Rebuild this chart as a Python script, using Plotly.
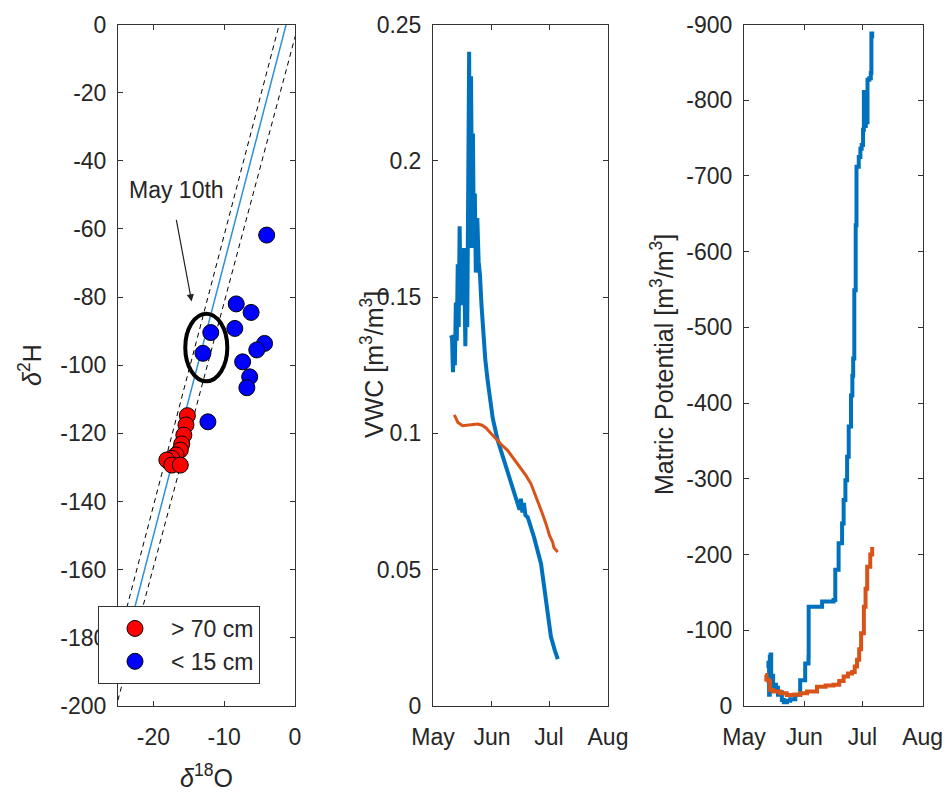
import plotly.graph_objects as go

# ---- Isotope samples (permil) ----
deep_d18O = [-15.2, -15.4, -15.7, -16.0, -16.2, -16.8, -17.4, -18.1, -17.4, -16.2]
deep_d2H = [-114.8, -117.5, -120.5, -123.1, -124.9, -126.3, -127.3, -127.8, -129.3, -129.3]
shallow_d18O = [-4.0, -8.3, -6.2, -8.5, -11.9, -13.0, -4.3, -5.4, -7.4, -6.4, -6.8, -12.3]
shallow_d2H = [-61.8, -82.0, -84.5, -89.2, -90.4, -96.5, -93.6, -95.5, -99.0, -103.4, -106.6, -116.6]

# water lines as (slope, intercept); the span of d18O they are drawn over
gmwl = (8.0, 10.0)
upper_band = (7.95, 17.7)
lower_band = (7.78, -3.7)
line_span = [-26.0, 1.0]

# highlighted May 10th samples (ellipse bounds) and arrow
may10_d18O = [-15.5, -9.56]
may10_d2H = [-104.7, -84.9]
arrow_tail = (-16.8, -56.9)
arrow_head = (-14.6, -81.3)
label_pos = (-16.7, -48.6)

# ---- Volumetric water content ----
vwc_shallow_time = [
    "2017-05-10 12:00", "2017-05-11 00:00", "2017-05-11 12:00", "2017-05-12 00:00",
    "2017-05-12 12:00", "2017-05-13 00:00", "2017-05-13 12:00", "2017-05-14 00:00",
    "2017-05-14 12:00", "2017-05-15 00:00", "2017-05-15 12:00", "2017-05-16 00:00",
    "2017-05-16 12:00", "2017-05-17 07:00", "2017-05-18 00:00", "2017-05-18 12:00",
    "2017-05-19 00:00", "2017-05-19 12:00", "2017-05-20 00:00", "2017-05-20 12:00",
    "2017-05-21 00:00", "2017-05-21 12:00", "2017-05-22 00:00", "2017-05-22 12:00",
    "2017-05-23 00:00", "2017-05-23 12:00", "2017-05-24 07:00", "2017-05-25 00:00",
    "2017-05-25 17:00", "2017-05-26 12:00", "2017-05-27 12:00", "2017-05-28 12:00",
    "2017-05-29 19:00", "2017-06-01 10:00", "2017-06-04 00:00", "2017-06-07 07:00",
    "2017-06-11 00:00", "2017-06-14 12:00", "2017-06-15 12:00", "2017-06-16 05:00",
    "2017-06-17 00:00", "2017-06-17 19:00", "2017-06-18 14:00", "2017-06-19 19:00",
    "2017-06-23 02:00", "2017-06-26 19:00", "2017-06-29 10:00", "2017-07-02 00:00",
    "2017-07-04 00:00", "2017-07-05 14:00",
]
vwc_shallow = [
    0.136, 0.135, 0.1225, 0.132, 0.125, 0.148, 0.134, 0.162,
    0.139, 0.176, 0.149, 0.166, 0.147, 0.168, 0.132, 0.158,
    0.139, 0.218, 0.240, 0.168, 0.231, 0.183, 0.210, 0.168,
    0.188, 0.159, 0.179, 0.163, 0.158, 0.147, 0.134, 0.127,
    0.119, 0.1055, 0.0975, 0.090, 0.0815, 0.0742, 0.0720, 0.0760,
    0.0710, 0.0745, 0.0700, 0.0693, 0.0620, 0.0522, 0.0385, 0.0254,
    0.0205, 0.0172,
]
vwc_deep_time = [
    "2017-05-12 05:00", "2017-05-14 02:00", "2017-05-16 14:00", "2017-05-18 22:00",
    "2017-05-21 12:00", "2017-05-24 12:00", "2017-05-26 19:00", "2017-05-28 22:00",
    "2017-05-31 12:00", "2017-06-03 02:00", "2017-06-05 19:00", "2017-06-09 07:00",
    "2017-06-12 14:00", "2017-06-16 07:00", "2017-06-18 22:00", "2017-06-21 12:00",
    "2017-06-25 00:00", "2017-06-27 07:00", "2017-06-29 10:00", "2017-07-01 07:00",
    "2017-07-02 22:00", "2017-07-03 14:00", "2017-07-05 14:00",
]
vwc_deep = [
    0.1068, 0.104, 0.1028, 0.103, 0.1032, 0.1034, 0.103, 0.102,
    0.100, 0.0979, 0.096, 0.0937, 0.0905, 0.087, 0.0845, 0.0815,
    0.0754, 0.071, 0.0668, 0.0625, 0.0601, 0.058, 0.0565,
]

# ---- Matric potential ----
mp_shallow_time = [
    "2017-05-13 07:00", "2017-05-13 14:00", "2017-05-13 22:00", "2017-05-14 07:00",
    "2017-05-14 17:00", "2017-05-15 00:00", "2017-05-15 12:00", "2017-05-16 00:00",
    "2017-05-16 12:00", "2017-05-17 12:00", "2017-05-18 12:00", "2017-05-19 12:00",
    "2017-05-20 12:00", "2017-05-21 12:00", "2017-05-23 02:00", "2017-05-24 19:00",
    "2017-05-27 10:00", "2017-05-29 22:00", "2017-06-01 12:00", "2017-06-03 05:00",
    "2017-06-03 07:00", "2017-06-10 05:00", "2017-06-16 02:00", "2017-06-17 00:00",
    "2017-06-18 17:00", "2017-06-20 12:00", "2017-06-21 07:00", "2017-06-22 05:00",
    "2017-06-23 02:00", "2017-06-23 22:00", "2017-06-25 02:00", "2017-06-25 19:00",
    "2017-06-26 05:00", "2017-06-26 19:00", "2017-06-27 12:00", "2017-06-27 22:00",
    "2017-06-29 02:00", "2017-06-29 22:00", "2017-06-30 14:00", "2017-07-01 07:00",
    "2017-07-01 17:00", "2017-07-02 05:00", "2017-07-02 17:00", "2017-07-03 05:00",
    "2017-07-03 14:00", "2017-07-04 12:00", "2017-07-05 07:00", "2017-07-05 14:00",
    "2017-07-06 00:00",
]
mp_shallow = [
    -50, -57, -15, -65, -68, -30, -40, -22,
    -28, -24, -15, -18, -8, -5, -7, -9,
    -15, -34, -56, -65,
    -131, -138, -140, -180,
    -215, -241, -272, -298,
    -329, -369, -410, -436,
    -459, -549, -635, -712,
    -725, -736, -741, -761,
    -811, -766, -808, -771,
    -827, -829, -836, -888,
    -882,
]
mp_deep_time = [
    "2017-05-11 22:00", "2017-05-12 12:00", "2017-05-13 12:00", "2017-05-14 10:00",
    "2017-05-16 00:00", "2017-05-19 14:00", "2017-05-23 00:00", "2017-05-26 12:00",
    "2017-05-30 00:00", "2017-06-02 10:00", "2017-06-07 14:00", "2017-06-12 00:00",
    "2017-06-16 02:00", "2017-06-19 00:00", "2017-06-21 07:00", "2017-06-23 12:00",
    "2017-06-25 17:00", "2017-06-27 00:00", "2017-06-28 05:00", "2017-06-29 07:00",
    "2017-06-30 07:00", "2017-07-01 17:00", "2017-07-02 14:00", "2017-07-03 10:00",
    "2017-07-05 00:00", "2017-07-06 00:00",
]
mp_deep = [
    -41, -35, -33, -21, -19, -17, -14.5, -15,
    -17, -19, -25.5, -27, -28, -33, -39, -43,
    -45, -52, -61, -75, -96, -131, -155, -184,
    -200, -210,
]

# ---- Axis ticks ----
iso_x_ticks = [-20, -10, 0]
iso_y_ticks = [0, -20, -40, -60, -80, -100, -120, -140, -160, -180, -200]
vwc_ticks = [0, 0.05, 0.1, 0.15, 0.2, 0.25]
mp_ticks = [0, -100, -200, -300, -400, -500, -600, -700, -800, -900]
month_ticks = ["2017-05-01", "2017-06-01", "2017-07-01", "2017-08-01"]
month_labels = ["May", "Jun", "Jul", "Aug"]

BLUE = "#0072BD"
ORANGE = "#D95319"
AXC = "#333333"
TXT = "#262626"
FONT = "Liberation Sans, Arial, sans-serif"
TICK_SIZE = 23
W, H = 948, 794


def label(v):
    # plain hyphen-minus labels
    return f"{v:g}"


fig = go.Figure()

# water lines
for (slope, icpt), style in [
    (gmwl, dict(color="#2f8fd8", width=1.5)),
    (upper_band, dict(color="black", width=1, dash="5px,4px")),
    (lower_band, dict(color="black", width=1, dash="5px,4px")),
]:
    fig.add_trace(go.Scatter(
        x=line_span, y=[slope * v + icpt for v in line_span],
        mode="lines", line=style, showlegend=False, hoverinfo="skip",
        xaxis="x", yaxis="y"))

marker_line = dict(color="black", width=1)
fig.add_trace(go.Scatter(
    x=deep_d18O, y=deep_d2H, mode="markers", name="> 70 cm",
    marker=dict(color="#ff0000", size=16, line=marker_line),
    xaxis="x", yaxis="y"))
fig.add_trace(go.Scatter(
    x=shallow_d18O, y=shallow_d2H, mode="markers", name="< 15 cm",
    marker=dict(color="#0000ff", size=16, line=marker_line),
    xaxis="x", yaxis="y"))

# VWC panel
fig.add_trace(go.Scatter(x=vwc_shallow_time, y=vwc_shallow, mode="lines",
                         line=dict(color=BLUE, width=4), showlegend=False,
                         xaxis="x2", yaxis="y2"))
fig.add_trace(go.Scatter(x=vwc_deep_time, y=vwc_deep, mode="lines",
                         line=dict(color=ORANGE, width=3), showlegend=False,
                         xaxis="x2", yaxis="y2"))

# Matric potential panel
fig.add_trace(go.Scatter(x=mp_shallow_time, y=mp_shallow, mode="lines",
                         line=dict(color=BLUE, width=4, shape="hv"), showlegend=False,
                         xaxis="x3", yaxis="y3"))
fig.add_trace(go.Scatter(x=mp_deep_time, y=mp_deep, mode="lines",
                         line=dict(color=ORANGE, width=4, shape="hv"), showlegend=False,
                         xaxis="x3", yaxis="y3"))

y_dom = [1 - 706 / H, 1 - 24.5 / H]
axis_common = dict(
    showline=True, linecolor=AXC, linewidth=1, mirror="allticks",
    ticks="inside", ticklen=5, tickcolor=AXC, tickwidth=1,
    showgrid=False, zeroline=False, automargin=False,
    tickfont=dict(family=FONT, size=TICK_SIZE, color=TXT),
)
x_common = dict(ticklabelstandoff=10, **axis_common)
y_common = dict(ticklabelstandoff=6, **axis_common)

fig.update_layout(
    template="none",
    width=W, height=H,
    margin=dict(l=0, r=0, t=0, b=0, pad=0),
    paper_bgcolor="white", plot_bgcolor="white",
    font=dict(family=FONT, color=TXT),
    showlegend=True,
    legend=dict(
        x=98 / W, y=1 - 606 / H, xanchor="left", yanchor="top",
        bgcolor="white", bordercolor=AXC, borderwidth=1,
        font=dict(family=FONT, size=23, color=TXT),
        itemwidth=62, tracegroupgap=0,
    ),
    xaxis=dict(domain=[118 / W, 295 / W], range=[-25, 0],
               tickvals=iso_x_ticks, ticktext=[label(v) for v in iso_x_ticks],
               anchor="y", **x_common),
    yaxis=dict(domain=y_dom, range=[-200, 0],
               tickvals=iso_y_ticks, ticktext=[label(v) for v in iso_y_ticks],
               anchor="x", **y_common),
    xaxis2=dict(domain=[433 / W, 608 / W], type="date",
                range=[month_ticks[0], month_ticks[-1]],
                tickvals=month_ticks, ticktext=month_labels,
                anchor="y2", **x_common),
    yaxis2=dict(domain=y_dom, range=[0, 0.25],
                tickvals=vwc_ticks, ticktext=[label(v) for v in vwc_ticks],
                anchor="x2", **y_common),
    xaxis3=dict(domain=[744 / W, 922.7 / W], type="date",
                range=[month_ticks[0], month_ticks[-1]],
                tickvals=month_ticks, ticktext=month_labels,
                anchor="y3", **x_common),
    yaxis3=dict(domain=y_dom, range=[0, -900],
                tickvals=mp_ticks, ticktext=[label(v) for v in mp_ticks],
                anchor="x3", **y_common),
)

# May 10th ellipse
fig.add_shape(type="circle", xref="x", yref="y",
              x0=may10_d18O[0], x1=may10_d18O[1], y0=may10_d2H[0], y1=may10_d2H[1],
              line=dict(color="black", width=4))

# arrow + label
fig.add_annotation(x=arrow_head[0], y=arrow_head[1], ax=arrow_tail[0], ay=arrow_tail[1],
                   xref="x", yref="y", axref="x", ayref="y", text="",
                   showarrow=True, arrowhead=2, arrowsize=1.2, arrowwidth=1.2,
                   arrowcolor="#222222")
fig.add_annotation(x=label_pos[0], y=label_pos[1], xref="x", yref="y",
                   text="May 10th", showarrow=False,
                   font=dict(family=FONT, size=23, color=TXT))

# axis titles
TITLE_SIZE = 25
yc = 1 - 365 / H
for txt, x in [("<i>δ</i><sup>2</sup>H", 30),
               ("VWC [m<sup>3</sup>/m<sup>3</sup>]", 372),
               ("Matric Potential [m<sup>3</sup>/m<sup>3</sup>]", 662)]:
    fig.add_annotation(x=x / W, y=yc, xref="paper", yref="paper", text=txt,
                       textangle=-90, showarrow=False, xanchor="center", yanchor="middle",
                       font=dict(family=FONT, size=TITLE_SIZE, color=TXT))
fig.add_annotation(x=206 / W, y=1 - 776 / H, xref="paper", yref="paper",
                   text="<i>δ</i><sup>18</sup>O", showarrow=False,
                   xanchor="center", yanchor="middle",
                   font=dict(family=FONT, size=TITLE_SIZE, color=TXT))

fig.write_html("out.html")
